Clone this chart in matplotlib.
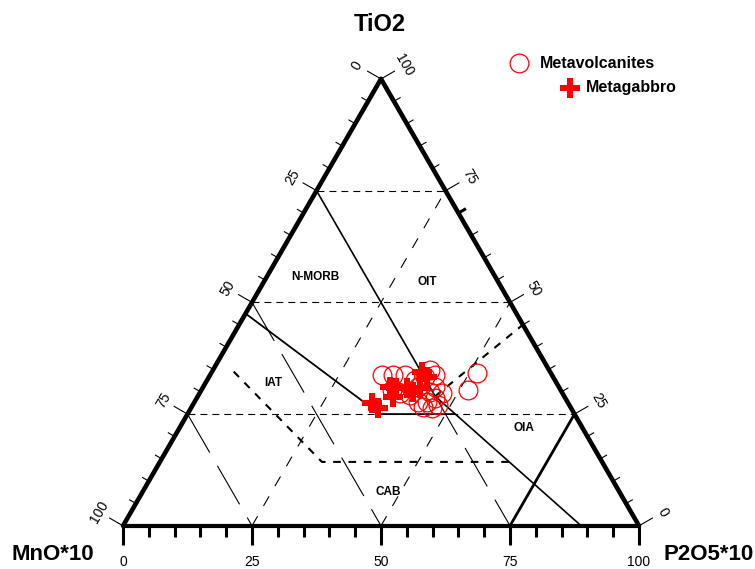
import numpy as np
import matplotlib
matplotlib.use("Agg")
import matplotlib.pyplot as plt

plt.rcParams['font.family'] = ['Liberation Sans', 'DejaVu Sans']
plt.rcParams['lines.scale_dashes'] = False

# ---------------- data (ternary %, TiO2 / MnO*10 / P2O5*10) ----------------
metavolc_tio2 = [33.7, 33.7, 33.7, 32.6, 34.9, 33.7, 34.1, 30.4, 30.4, 31.1, 27.7,
                 27.7, 28.6, 27.0, 26.6, 26.4, 29.7, 29.9, 29.3, 29.7, 31.1, 33.3]
metavolc_p2o5 = [33.3, 35.5, 37.8, 40.3, 42.1, 43.6, 51.5, 51.7, 36.9, 41.6, 43.3,
                 45.1, 46.2, 47.5, 44.9, 46.7, 47.0, 44.5, 41.0, 38.8, 44.9, 41.9]
metavolc_mno = [33.0, 30.8, 28.5, 27.1, 23.0, 22.7, 14.4, 17.9, 32.7, 27.3, 29.0,
                27.2, 25.2, 25.5, 28.5, 26.9, 23.3, 25.6, 29.7, 31.5, 24.0, 24.8]

metagab_tio2 = [27.5, 26.4, 34.5, 33.4, 31.1, 30.8, 30.8, 28.8, 30.8, 29.9]
metagab_p2o5 = [34.5, 36.2, 40.7, 42.2, 36.2, 37.6, 39.6, 37.9, 42.1, 41.2]
metagab_mno = [38.0, 37.4, 24.8, 24.4, 32.7, 31.6, 29.6, 33.3, 27.1, 28.9]

# field boundaries (TiO2, P2O5*10)
bnd_morb_tio2 = [75, 29, 0]          # N-MORB / OIT / OIA boundary
bnd_morb_p2o5 = [0, 46, 88.8]
bnd_iat_tio2 = [47.5, 25, 25]         # IAT / N-MORB boundary
bnd_iat_p2o5 = [0, 37.3, 51.5]
bnd_cab_tio2 = [34.5, 14.3, 14.3]     # IAT / CAB boundary (dashed)
bnd_cab_p2o5 = [4.2, 31.4, 67.7]
bnd_oit_tio2 = [29, 45]               # OIT / OIA boundary (dashed)
bnd_oit_p2o5 = [46, 55]
bnd_oia_tio2 = [0, 25]                # OIA boundary
bnd_oia_p2o5 = [75, 75]

grid_levels = [25, 50, 75]
tick_labels = ['0', '25', '50', '75', '100']
field_names = ['N-MORB', 'OIT', 'IAT', 'OIA', 'CAB']
field_tio2 = [55.7, 54.6, 32.0, 21.9, 7.6]
field_p2o5 = [9.35, 31.6, 13.1, 66.75, 47.6]

S3 = np.sqrt(3) / 2


def xy(t, p):
    t = np.asarray(t, float)
    p = np.asarray(p, float)
    return p + t / 2, t * S3


fig = plt.figure(figsize=(7.55, 5.69), dpi=100)
ax = fig.add_axes([0, 0, 1, 1])
ax.set_xlim(-23.84, 122.48)
ax.set_ylim(-8.37, 101.9)
ax.axis('off')

thin = dict(color='black', lw=0.8, zorder=1)

# grid: constant TiO2 (horizontal)
for g in grid_levels:
    x, y = xy([g, g], [0, 100 - g])
    ax.plot(x, y, dashes=(5, 3.6), **thin)
# grid: constant MnO ("\")
for g in grid_levels:
    t_top = 100 - g
    t_start = 29 if g == 25 else t_top
    x, y = xy([t_start, 0], [100 - g - t_start, 100 - g])
    ax.plot(x, y, dashes=(32, 11), **thin)
# grid: constant P2O5 ("/")
for g in [25, 50]:
    x, y = xy([0, 100 - g], [g, g])
    ax.plot(x, y, dashes=(8, 8.5), **thin)

# boundaries
x, y = xy(bnd_morb_tio2, bnd_morb_p2o5)
ax.plot(x, y, color='black', lw=1.2, zorder=2)
x, y = xy(bnd_iat_tio2, bnd_iat_p2o5)
ax.plot(x, y, color='black', lw=1.3, zorder=2)
x, y = xy(bnd_cab_tio2, bnd_cab_p2o5)
ax.plot(x, y, color='black', lw=1.5, dashes=(5.5, 5.5), zorder=2)
x, y = xy(bnd_oit_tio2, bnd_oit_p2o5)
ax.plot(x, y, color='black', lw=1.5, dashes=(5.5, 5.5), zorder=2)
x, y = xy(bnd_oia_tio2, bnd_oia_p2o5)
ax.plot(x, y, color='black', lw=2.0, zorder=2)

# triangle edges
x, y = xy([0, 100, 0], [0, 0, 100])
ax.plot(x[:2], y[:2], color='black', lw=3.3, solid_capstyle='round', zorder=3)
ax.plot(x[1:], y[1:], color='black', lw=3.3, solid_capstyle='round', zorder=3)
ax.plot([0, 100], [0, 0], color='black', lw=3.0, solid_capstyle='butt', zorder=3)

# ticks
nl = np.array([-S3, 0.5])
nr = np.array([S3, 0.5])
for v in range(0, 101, 5):
    major = v % 25 == 0
    L = 3.0 if major else 1.4
    bx, by = xy(100 - v, 0)
    ax.plot([bx, bx + nl[0] * L], [by, by + nl[1] * L], color='black', lw=0.8, zorder=3)
    bx, by = xy(v, 100 - v)
    lwr = 2.2 if v == 70 else 0.8
    ax.plot([bx, bx + nr[0] * L], [by, by + nr[1] * L], color='black', lw=lwr, zorder=3)
    Lb = 3.7 if major else 2.1
    ax.plot([v, v], [0, -Lb], color='black', lw=2.2, solid_capstyle='butt', zorder=3)

for i, lab in enumerate(tick_labels):
    v = i * 25
    bx, by = xy(100 - v, 0)
    ax.text(bx + nl[0] * 5.3, by + nl[1] * 5.3, lab, rotation=60, ha='center', va='center',
            fontsize=10, rotation_mode='anchor')
    bx, by = xy(v, 100 - v)
    ax.text(bx + nr[0] * 5.3, by + nr[1] * 5.3, lab, rotation=-60, ha='center', va='center',
            fontsize=10, rotation_mode='anchor')
    ax.text(v, -7.0, lab, ha='center', va='center', fontsize=10)

# axis titles
ax.text(49.8, 97.2, 'TiO2', ha='center', va='center', fontsize=17, fontweight='bold')
ax.text(-13.6, -5.5, 'MnO*10', ha='center', va='center', fontsize=16, fontweight='bold')
ax.text(104.8, -5.5, 'P2O5*10', ha='left', va='center', fontsize=16, fontweight='bold')

# field labels
for name, t, p in zip(field_names, field_tio2, field_p2o5):
    fx, fy = xy(t, p)
    ax.text(fx, fy, name, ha='center', va='center', fontsize=8.5, fontweight='bold')

# data
x, y = xy(metagab_tio2, metagab_p2o5)
ax.plot(x, y, 'P', color='red', markersize=15, markeredgewidth=0, linestyle='none', zorder=4)
x, y = xy(metavolc_tio2, metavolc_p2o5)
ax.plot(x, y, 'o', markerfacecolor='none', markeredgecolor='red', markersize=13.5,
        markeredgewidth=0.9, linestyle='none', zorder=5)

# legend (manual)
ax.plot([76.7], [89.6], 'o', markerfacecolor='none', markeredgecolor='red', markersize=13.5,
        markeredgewidth=0.9, zorder=5)
ax.text(80.8, 89.6, 'Metavolcanites', ha='left', va='center', fontsize=11.5, fontweight='bold')
ax.plot([86.6], [84.85], 'P', color='red', markersize=15, markeredgewidth=0, zorder=5)
ax.text(89.7, 84.85, 'Metagabbro', ha='left', va='center', fontsize=11.5, fontweight='bold')

fig.savefig('out.png', dpi=100)
